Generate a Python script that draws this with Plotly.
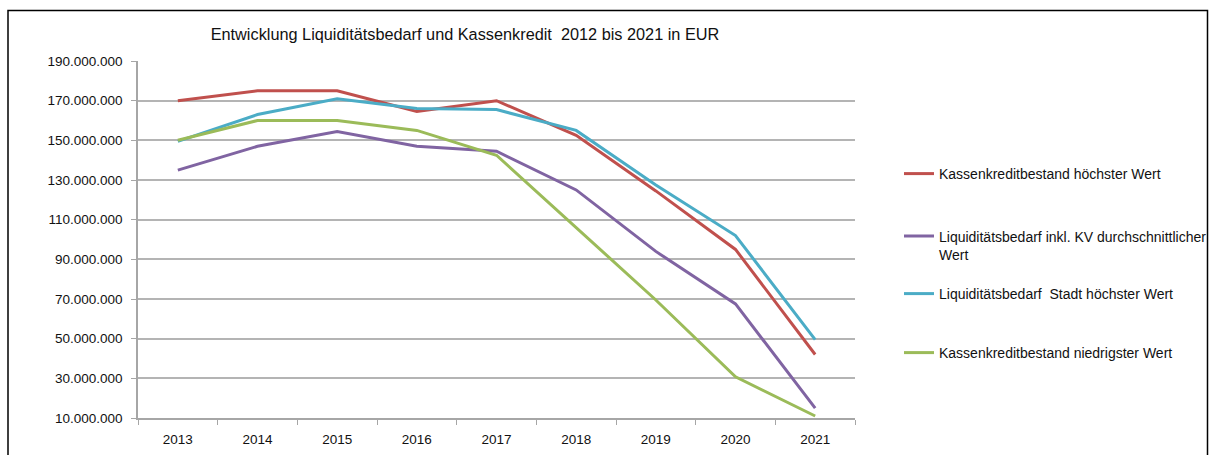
import plotly.graph_objects as go

years = ["2013", "2014", "2015", "2016", "2017", "2018", "2019", "2020", "2021"]

kk_hoechst = [170e6, 175e6, 175e6, 164.5e6, 170e6, 152.5e6, 124.5e6, 95e6, 42e6]
liq_durchschnitt = [135e6, 147e6, 154.5e6, 147e6, 144.5e6, 125e6, 94e6, 67.5e6, 15e6]
liq_stadt_hoechst = [149.5e6, 163e6, 171e6, 166e6, 165.5e6, 155e6, 127.5e6, 102e6, 49.5e6]
kk_niedrigst = [150e6, 160e6, 160e6, 155e6, 142.5e6, 106e6, 69.5e6, 30.8e6, 11e6]

names = [
    "Kassenkreditbestand höchster Wert",
    "Liquiditätsbedarf inkl. KV durchschnittlicher<br>Wert",
    "Liquiditätsbedarf  Stadt höchster Wert",
    "Kassenkreditbestand niedrigster Wert",
]
series = [kk_hoechst, liq_durchschnitt, liq_stadt_hoechst, kk_niedrigst]
colors = ["#C0504D", "#8064A2", "#4BACC6", "#9BBB59"]

y_ticks = [10e6, 30e6, 50e6, 70e6, 90e6, 110e6, 130e6, 150e6, 170e6, 190e6]

# target page-pixel geometry (body margin removed below)
W, H = 1211, 455
L, R, T, B = 138, 855, 61, 418


def py(p):
    return (B - p) / (B - T)


def px(p):
    return (p - L) / (R - L)


legend_ids = ["legend", "legend2", "legend3", "legend4"]
legend_y = [174, 245.5, 294, 353]

FONT = "Liberation Sans"

fig = go.Figure()
for s, n, c, lid in zip(series, names, colors, legend_ids):
    fig.add_trace(go.Scatter(x=years, y=s, name=n, mode="lines",
                             line=dict(color=c, width=3), legend=lid))

leg_common = dict(x=px(899), xanchor="left", yanchor="middle",
                  bgcolor="rgba(0,0,0,0)", borderwidth=0,
                  font=dict(family=FONT, size=14, color="#111"),
                  itemwidth=30)
layout_legends = {}
for lid, yy in zip(legend_ids, legend_y):
    d = dict(leg_common)
    d["y"] = py(yy)
    if lid == "legend2":
        d["valign"] = "top"
    layout_legends[lid] = d

fig.update_layout(
    width=W, height=H,
    margin=dict(l=L, r=W - R, t=T, b=H - B, autoexpand=False),
    paper_bgcolor="white", plot_bgcolor="white",
    separators=",.",
    title=dict(text="Entwicklung Liquiditätsbedarf und Kassenkredit\u00a0 2012 bis 2021 in EUR",
               x=465 / W, xanchor="center", xref="container",
               y=1 - 34 / H, yanchor="middle", yref="container",
               font=dict(family=FONT, size=16.3, color="#111")),
    showlegend=True,
    **layout_legends,
)

fig.update_xaxes(type="category", range=[-0.5, 8.5], showgrid=False, showline=True,
                 linecolor="#a6a6a6", linewidth=1.5, ticks="outside",
                 tickson="boundaries", ticklen=5, tickcolor="#a6a6a6",
                 ticklabelstandoff=8,
                 tickfont=dict(family=FONT, size=13.5, color="#111"))
fig.update_yaxes(range=[10e6, 190e6], tickvals=y_ticks, tickformat=",d",
                 showgrid=True, gridcolor="#b4b4b4", gridwidth=1.5,
                 showline=True, linecolor="#a6a6a6", linewidth=1.5,
                 ticks="outside", ticklen=5, tickcolor="#a6a6a6",
                 ticklabelstandoff=6, zeroline=False,
                 tickfont=dict(family=FONT, size=13.5, color="#111"))

# outer chart border
fig.add_shape(type="rect", xref="paper", yref="paper",
              x0=px(8), x1=px(1207.5), y0=py(470), y1=py(10.5),
              line=dict(color="black", width=1.5), fillcolor="rgba(0,0,0,0)",
              layer="above")

fig.write_html(
    "out.html",
    config={"displayModeBar": False},
    post_script="document.body.style.margin='0';document.body.style.overflow='hidden';",
)
